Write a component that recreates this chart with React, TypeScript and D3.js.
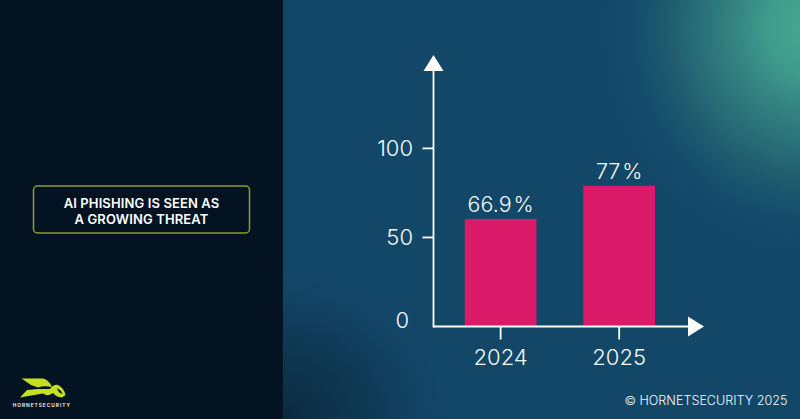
import React from "react";
import * as d3 from "d3";

const categories = ["2024", "2025"];
const barHeights = [60.4, 79];
const barLabels = ["66.9\u200a%", "77\u200a%"];
const yTicks = [0, 50, 100];
const title = ["AI PHISHING IS SEEN AS", "A GROWING THREAT"];
const copyright = "© HORNETSECURITY 2025";

const W = 800, H = 419;
const FONT = "Inter, 'Noto Sans', sans-serif";

export default function App() {
  const y = d3.scaleLinear().domain([0, 100]).range([326.5, 148.4]);
  const x = d3.scaleBand<string>().domain(categories).range([441.4, 678.4]).paddingInner(0.395).paddingOuter(0.197);
  const axisX = 433.5;
  const baseY = y(0);
  return (
    <svg width={W} height={H} viewBox={`0 0 ${W} ${H}`} style={{ position: "absolute", left: 0, top: 0, display: "block" }}>
      <defs>
        <radialGradient id="glow" gradientUnits="userSpaceOnUse" cx={0} cy={0} r={1} gradientTransform="translate(808 28) scale(215 235)">
          <stop offset="0" stopColor="#47a88f" stopOpacity={1} />
          <stop offset="0.2" stopColor="#3f9a8b" stopOpacity={1} />
          <stop offset="0.55" stopColor="#2a7077" stopOpacity={0.85} />
          <stop offset="1" stopColor="#134768" stopOpacity={0} />
        </radialGradient>
        <radialGradient id="dark" gradientUnits="userSpaceOnUse" cx={0} cy={0} r={1} gradientTransform="translate(283 419) scale(190 170)">
          <stop offset="0" stopColor="#0b2a40" stopOpacity={1} />
          <stop offset="0.45" stopColor="#0d3049" stopOpacity={0.65} />
          <stop offset="1" stopColor="#134768" stopOpacity={0} />
        </radialGradient>
      </defs>
      <rect x={0} y={0} width={W} height={H} fill="#041321" />
      <rect x={283} y={0} width={W - 283} height={H} fill="#134768" />
      <rect x={283} y={0} width={W - 283} height={H} fill="url(#glow)" />
      <rect x={283} y={0} width={W - 283} height={H} fill="url(#dark)" />

      <rect x={33.5} y={186} width={216} height={47} rx={4} fill="none" stroke="#8a9f2c" strokeWidth={1.5} />
      {title.map((t, i) => (
        <text key={t} x={141.5} y={208 + i * 16.2} textAnchor="middle" fontFamily={FONT} fontWeight={600} fontSize={13} letterSpacing={0.12} fill="#ffffff">{t}</text>
      ))}

      {categories.map((c, i) => (
        <g key={c}>
          <rect x={x(c)} y={y(barHeights[i])} width={x.bandwidth()} height={baseY - y(barHeights[i])} fill="#db1b69" />
          <text x={x(c)! + x.bandwidth() / 2} y={y(barHeights[i]) - 7} textAnchor="middle" fontFamily={FONT} fontWeight={300} fontSize={21.5} fill="#f2fbfb">{barLabels[i]}</text>
          <line x1={x(c)! + x.bandwidth() / 2} x2={x(c)! + x.bandwidth() / 2} y1={baseY} y2={baseY + 13} stroke="#fff" strokeWidth={1.8} />
          <text x={x(c)! + x.bandwidth() / 2} y={365} textAnchor="middle" fontFamily={FONT} fontWeight={300} fontSize={22} fill="#f2fbfb">{c}</text>
        </g>
      ))}

      <line x1={axisX} x2={axisX} y1={70} y2={baseY + 0.9} stroke="#fff" strokeWidth={1.8} />
      <line x1={axisX} x2={690} y1={baseY} y2={baseY} stroke="#fff" strokeWidth={1.8} />
      <polygon points={`${axisX},55 ${axisX + 10},71 ${axisX - 10},71`} fill="#fff" />
      <polygon points={`704,${baseY} 688,${baseY + 10} 688,${baseY - 10}`} fill="#fff" />

      {yTicks.map((t) => (
        <g key={t}>
          {t > 0 && <line x1={axisX - 11} x2={axisX} y1={y(t)} y2={y(t)} stroke="#fff" strokeWidth={1.8} />}
          <text x={t > 0 ? 413 : 409} y={y(t) + (t > 0 ? 8 : 1)} textAnchor="end" fontFamily={FONT} fontWeight={300} fontSize={22} fill="#f2fbfb">{t}</text>
        </g>
      ))}

      <g fill="#c3e021">
        <path d="M21.5 378.5 L43 378.5 Q49 380 52 387 Q44 385.5 38 387.5 L31 385 Z" />
        <path d="M27 390 L38 389 L50 389 Q54 384 58 385 Q64 388 65.5 395 L62 397.5 Q56 397 53 393 Q48 397 43 393.5 L20 397.5 Z" />
      </g>
      <path d="M57 388 Q61 390 62.5 394 Q58 393 57 388 Z" fill="#041321" />
      <text x={41.8} y={406.6} textAnchor="middle" fontFamily={FONT} fontWeight={600} fontSize={4.8} letterSpacing={1} fill="#ffffff">HORNETSECURITY</text>

      <text x={787.5} y={405} textAnchor="end" fontFamily={FONT} fontWeight={300} fontSize={12.6} fill="#f2fbfb">{copyright}</text>
    </svg>
  );
}
